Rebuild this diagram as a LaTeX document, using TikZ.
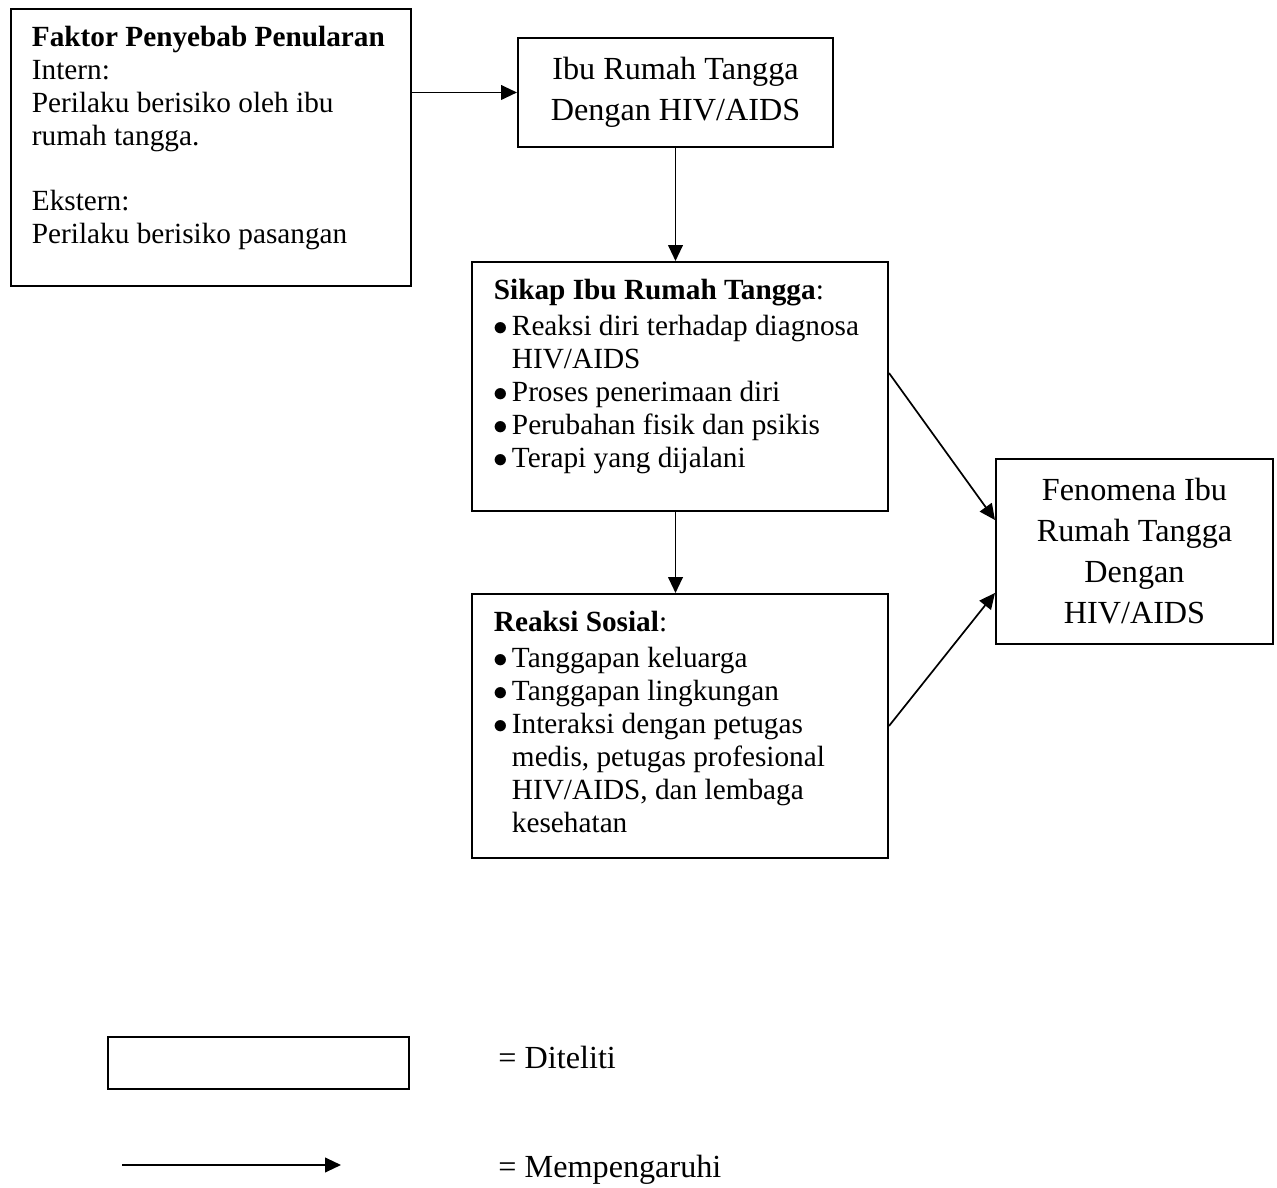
\documentclass[tikz,border=0pt]{standalone}
\usepackage{fontspec}
\setmainfont{Liberation Serif}
\usetikzlibrary{arrows.meta}

\newcommand{\butir}[1]{\par\hangindent=7.4pt\hangafter=1\noindent\makebox[7.4pt][l]{$\bullet$}#1}

\tikzset{
  kotak/.style={draw, line width=0.8pt, inner sep=0pt},
  kiri/.style={kotak, anchor=north west, inner xsep=9pt, inner ysep=7pt},
  tengah/.style={kotak, align=center, font=\fontsize{13.2}{16.8}\selectfont},
  panah/.style={-{Triangle[length=6.5pt,width=6pt]}, line width=0.7pt},
  ket/.style={anchor=base west, inner sep=0pt, font=\fontsize{13.2}{16.8}\selectfont}
}

\begin{document}
\begin{tikzpicture}[x=0.41pt,y=-0.41pt,font=\fontsize{12}{13.5}\selectfont]
\useasboundingbox (0,0) rectangle (1277,1188);

% kotak
\node (fak) at (10,8) [kiri, inner xsep=8.6pt] {\parbox[t][99.6pt][t]{146.8pt}{\raggedright
  \textbf{Faktor Penyebab Penularan}\\
  Intern:\\
  Perilaku berisiko oleh ibu\\
  rumah tangga.\\[\baselineskip]
  Ekstern:\\
  Perilaku berisiko pasangan}};
\node (ibu) at (675.5,92.5) [tengah, minimum width=129.2pt, minimum height=44.7pt] {Ibu Rumah Tangga\\Dengan HIV/AIDS};
\node (sikap) at (471,261) [kiri] {\parbox[t][88.1pt][t]{152.6pt}{\raggedright
  \textbf{Sikap Ibu Rumah Tangga}:\par\vspace{1.5pt}
  \butir{Reaksi diri terhadap diagnosa\newline HIV/AIDS}
  \butir{Proses penerimaan diri}
  \butir{Perubahan fisik dan psikis}
  \butir{Terapi yang dijalani}}};
\node (reaksi) at (471,593) [kiri] {\parbox[t][94.2pt][t]{152.6pt}{\raggedright
  \textbf{Reaksi Sosial}:\par\vspace{1.5pt}
  \butir{Tanggapan keluarga}
  \butir{Tanggapan lingkungan}
  \butir{Interaksi dengan petugas\newline medis, petugas profesional\newline HIV/AIDS, dan lembaga\newline kesehatan}}};
\node (fen) at (1134.5,551.5) [tengah, minimum width=113.6pt, minimum height=75.9pt] {Fenomena Ibu\\Rumah Tangga\\Dengan\\HIV/AIDS};

% panah
\draw[panah] (fak.east |- ibu.west) -- (ibu.west);
\draw[panah] (ibu.south) -- (ibu.south |- sikap.north);
\draw[panah] (sikap.south -| ibu.south) -- (reaksi.north -| ibu.south);
\draw[panah] ([yshift=5.5pt]sikap.east) -- ([yshift=12.9pt]fen.west);
\draw[panah] (reaksi.east) -- ([yshift=-17pt]fen.west);

% keterangan
\node (lkotak) at (258.5,1063) [kotak, minimum width=123.4pt, minimum height=21.3pt] {};
\node (lteks1) at (498,1069) [ket] {= Diteliti};
\coordinate (la) at (122,1165);
\coordinate (lb) at (341,1165);
\draw[panah] (la) -- (lb);
\node (lteks2) at (498,1178) [ket] {= Mempengaruhi};
\end{tikzpicture}
\end{document}
